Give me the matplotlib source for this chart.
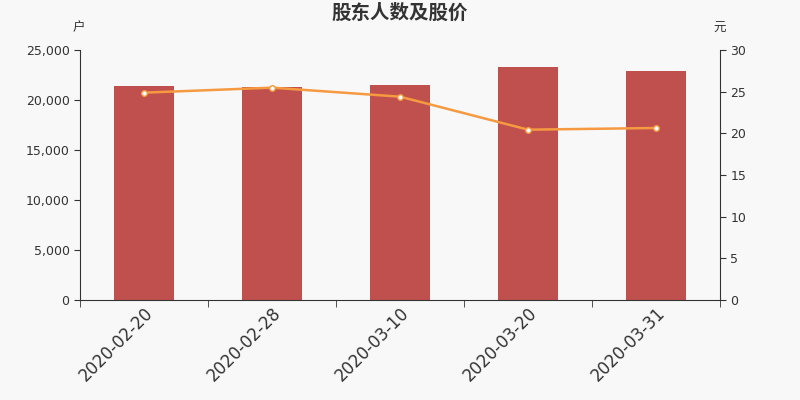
import matplotlib
matplotlib.use("Agg")
import matplotlib.pyplot as plt
import numpy as np

plt.rcParams['font.family'] = ['DejaVu Sans', 'Noto Sans CJK SC']

dates = ["2020-02-20", "2020-02-28", "2020-03-10", "2020-03-20", "2020-03-31"]
holders = [21370, 21300, 21500, 23300, 22870]
price = [24.88, 25.48, 24.40, 20.44, 20.64]

bg = "#f8f8f8"
fig = plt.figure(figsize=(8, 4), dpi=100, facecolor=bg)
ax = fig.add_axes([0.1, 0.25, 0.8, 0.625], facecolor=bg)
ax2 = ax.twinx()

x = np.arange(len(dates))
ax.bar(x, holders, width=0.47, color="#c0504d", zorder=2)
ax.set_xlim(-0.5, len(dates) - 0.5)
ax.set_ylim(0, 25000)
ax.set_yticks(np.arange(0, 25001, 5000))
ax.set_yticklabels([f"{v:,}" for v in range(0, 25001, 5000)])

ax2.plot(x, price, color="#f59a40", lw=1.8, marker="o", markersize=4,
         markerfacecolor="white", markeredgecolor="#f59a40", markeredgewidth=1, zorder=3)
ax2.set_ylim(0, 30)
ax2.set_yticks(np.arange(0, 31, 5))

ax.set_xticks(x)
ax.set_xticklabels(dates, rotation=45, ha="right", rotation_mode="anchor", fontsize=12, color="#333333")
ax.tick_params(axis="x", length=0, pad=3)
ax.set_xticks(np.arange(-0.5, len(dates), 1), minor=True)
ax.tick_params(axis="x", which="minor", length=5, color="#333333", direction="out")

for a in (ax, ax2):
    a.spines["top"].set_visible(False)
    a.spines["left"].set_color("#333333")
    a.spines["right"].set_color("#333333")
    a.spines["bottom"].set_color("#333333")
    a.tick_params(axis="y", labelsize=9, colors="#333333", length=4)
ax.spines["right"].set_visible(False)
ax2.spines["left"].set_visible(False)
ax2.spines["bottom"].set_visible(False)

fig.text(0.5, 0.967, "股东人数及股价", ha="center", va="center", fontsize=14,
         fontweight="bold", color="#333333", family=["Noto Sans CJK SC", "DejaVu Sans"])
fig.text(0.099, 0.93, "户", ha="center", va="center", fontsize=9, color="#333333",
         family=["Noto Sans CJK SC", "DejaVu Sans"])
fig.text(0.899, 0.928, "元", ha="center", va="center", fontsize=9, color="#333333",
         family=["Noto Sans CJK SC", "DejaVu Sans"])

fig.savefig("out.png", dpi=100, facecolor=bg)
